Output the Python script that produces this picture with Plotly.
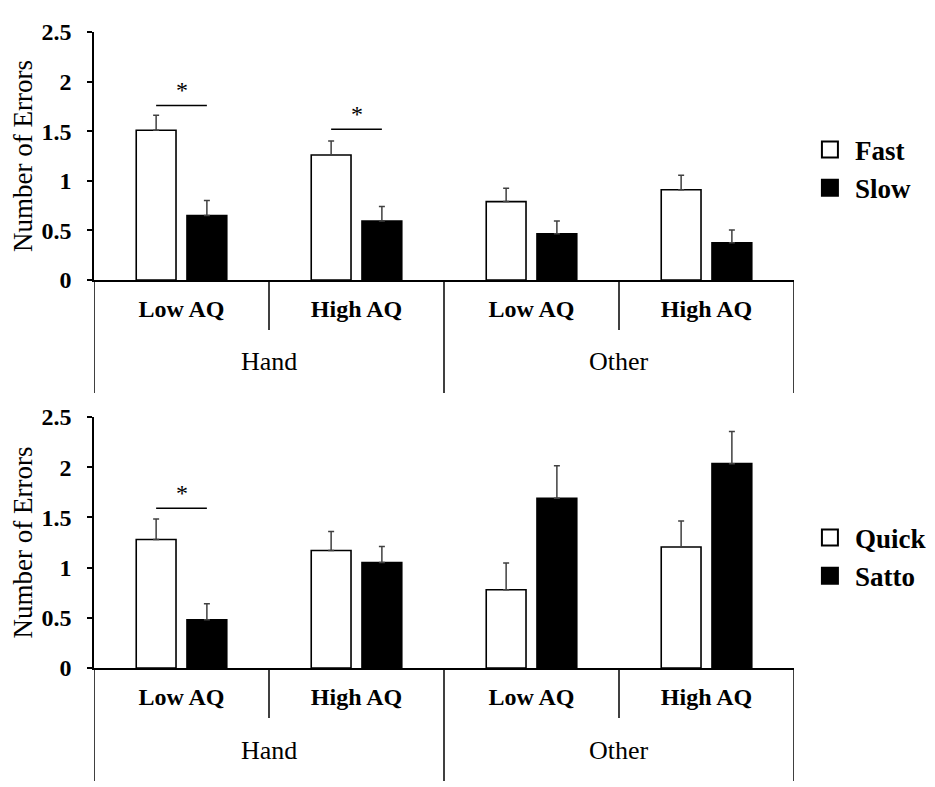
import plotly.graph_objects as go

# ---------------- data ----------------
group_names = ["Hand", "Other"]
aq_levels = ["Low AQ", "High AQ", "Low AQ", "High AQ"]
group_of_category = ["Hand", "Hand", "Other", "Other"]

fast_mean = [1.51, 1.26, 0.79, 0.91]
fast_err = [0.15, 0.14, 0.135, 0.145]
slow_mean = [0.65, 0.595, 0.465, 0.375]
slow_err = [0.15, 0.145, 0.13, 0.13]

quick_mean = [1.28, 1.17, 0.78, 1.205]
quick_err = [0.205, 0.19, 0.265, 0.26]
satto_mean = [0.48, 1.05, 1.69, 2.035]
satto_err = [0.16, 0.16, 0.325, 0.32]

y_tick_vals = [0, 0.5, 1, 1.5, 2, 2.5]
y_tick_text = ["0", "0.5", "1", "1.5", "2", "2.5"]

top_sig_category = [0, 1]
top_sig_level = [1.76, 1.52]
bottom_sig_category = [0]
bottom_sig_level = [1.59]

# ---------------- style ----------------
FONT = "Liberation Serif, Times New Roman, serif"
BARGAP = 0.42
BARGROUPGAP = 0.216
ERR_COLOR = "#404040"

xpos = list(range(len(aq_levels)))

fig = go.Figure()


def add_panel(means_a, errs_a, name_a, means_b, errs_b, name_b, xa, ya, leg):
    fig.add_trace(go.Bar(
        x=xpos, y=means_a, name=name_a, xaxis=xa, yaxis=ya, showlegend=False,
        marker=dict(color="white", line=dict(color="black", width=1.6)),
        error_y=dict(type="data", symmetric=False, array=errs_a,
                     arrayminus=[0] * len(errs_a), color=ERR_COLOR,
                     thickness=1.5, width=3),
    ))
    fig.add_trace(go.Bar(
        x=xpos, y=means_b, name=name_b, xaxis=xa, yaxis=ya, showlegend=False,
        marker=dict(color="black", line=dict(color="black", width=1.6)),
        error_y=dict(type="data", symmetric=False, array=errs_b,
                     arrayminus=[0] * len(errs_b), color=ERR_COLOR,
                     thickness=1.5, width=3),
    ))
    # legend entries
    for nm, col in ((name_a, "white"), (name_b, "black")):
        fig.add_trace(go.Scatter(
            x=[None], y=[None], mode="markers", name=nm, xaxis=xa, yaxis=ya,
            legend=leg, showlegend=True,
            marker=dict(symbol="square", size=18, color=col,
                        line=dict(color="black", width=2)),
        ))


add_panel(fast_mean, fast_err, "Fast", slow_mean, slow_err, "Slow", "x", "y", "legend")
add_panel(quick_mean, quick_err, "Quick", satto_mean, satto_err, "Satto", "x2", "y2", "legend2")

# bar centre offset within a category (fraction of category width)
bar_off = (1 - BARGAP) / 4

shapes = []
annotations = []


def add_sig(cats, levels, xr, yr):
    for c, lv in zip(cats, levels):
        shapes.append(dict(type="line", xref=xr, yref=yr, x0=c - bar_off, x1=c + bar_off,
                           y0=lv, y1=lv, line=dict(color="black", width=1.5)))
        annotations.append(dict(x=c, y=lv, xref=xr, yref=yr, text="*", showarrow=False,
                                yanchor="bottom", font=dict(size=24, family=FONT, color="black")))


add_sig(top_sig_category, top_sig_level, "x", "y")
add_sig(bottom_sig_category, bottom_sig_level, "x2", "y2")


def add_dividers(xr, ydom, panel_h):
    n = len(aq_levels)
    for k in range(n + 1):
        b = k - 0.5
        outer = (k == 0 or k == n or group_of_category[k - 1] != group_of_category[k])
        length = 113 if outer else 50
        shapes.append(dict(type="line", xref=xr, yref=ydom, x0=b, x1=b, y0=0,
                           y1=-length / panel_h, line=dict(color="black", width=1.5)))
    for g in group_names:
        idx = [i for i, gg in enumerate(group_of_category) if gg == g]
        annotations.append(dict(x=sum(idx) / len(idx), y=-82 / panel_h, xref=xr, yref=ydom,
                                text=g, showarrow=False, yanchor="middle",
                                font=dict(size=26, family=FONT, color="black")))


add_dividers("x", "y domain", 248)
add_dividers("x2", "y2 domain", 251)

xaxis_style = dict(range=[-0.5, len(aq_levels) - 0.5], tickvals=xpos, ticktext=aq_levels,
                   showline=True, linecolor="black", linewidth=1.5, ticks="",
                   showgrid=False, zeroline=False, automargin=False,
                   tickfont=dict(size=24, family=FONT, weight="bold", color="black"),
                   ticklabelstandoff=6)
yaxis_style = dict(range=[0, 2.5], tickvals=y_tick_vals, ticktext=y_tick_text,
                   ticks="outside", ticklen=5, tickwidth=1.5, tickcolor="black",
                   showline=True, linecolor="black", linewidth=1.5,
                   showgrid=False, zeroline=False, automargin=False,
                   tickfont=dict(size=24, family=FONT, weight="bold", color="black"),
                   ticklabelstandoff=11,
                   title=dict(text="Number of Errors", standoff=18,
                              font=dict(size=27, family=FONT, color="black")))

legend_style = dict(xref="paper", yref="paper", xanchor="left", yanchor="middle",
                    x=1.0156, font=dict(size=27, family=FONT, weight="bold", color="black"),
                    bgcolor="rgba(0,0,0,0)", itemsizing="trace", itemwidth=40,
                    tracegroupgap=0, borderwidth=0)

fig.update_layout(
    width=935, height=787,
    margin=dict(l=86, r=146, t=24, b=127, pad=0),
    paper_bgcolor="white", plot_bgcolor="white",
    barmode="group", bargap=BARGAP, bargroupgap=BARGROUPGAP,
    font=dict(family=FONT, color="black"),
    xaxis=dict(domain=[0, 1], anchor="y", **xaxis_style),
    yaxis=dict(domain=[0.6101, 1], anchor="x", **yaxis_style),
    xaxis2=dict(domain=[0, 1], anchor="y2", **xaxis_style),
    yaxis2=dict(domain=[0, 0.3947], anchor="x2", **yaxis_style),
    legend=dict(y=0.7846, **legend_style),
    legend2=dict(y=0.1745, **legend_style),
    shapes=shapes,
    annotations=annotations,
)

fig.write_html("out.html")
